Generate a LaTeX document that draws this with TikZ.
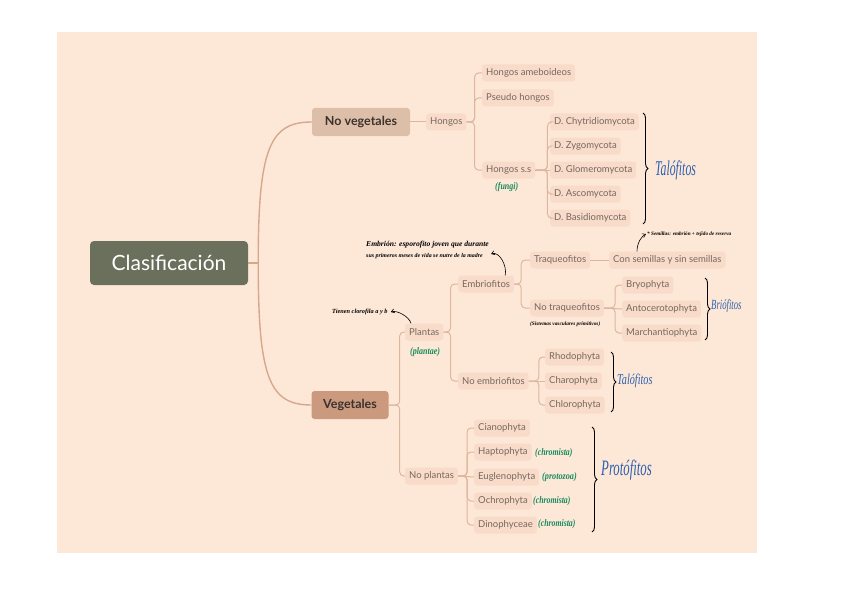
\documentclass[tikz,border=0pt]{standalone}
\usepackage{fontspec}
\setmainfont{Lato}
\newfontfamily\hand{Liberation Serif}
\usetikzlibrary{decorations.pathreplacing,arrows.meta}
\definecolor{bgc}{HTML}{FDE8D8}
\definecolor{boxc}{HTML}{F8DCC9}
\definecolor{linec}{HTML}{DDB69D}
\definecolor{mainlinec}{HTML}{D6A88B}
\definecolor{txtc}{HTML}{76675F}
\definecolor{clasc}{HTML}{6B705C}
\definecolor{novc}{HTML}{DDBEA9}
\definecolor{vegc}{HTML}{CB997E}
\definecolor{darktxt}{HTML}{3A322D}
\definecolor{greenc}{HTML}{178A5C}
\definecolor{bluec}{HTML}{2D5FAE}
\tikzset{
  leaf/.style={fill=boxc, rounded corners=3pt, font=\fontsize{9.5}{10}\selectfont, text=txtc,
    inner xsep=4pt, inner ysep=0pt, minimum height=17pt, anchor=west},
  topnode/.style={rounded corners=3pt, font=\bfseries\fontsize{12.5}{13}\selectfont, text=darktxt,
    minimum height=28pt, inner sep=0pt},
  conn/.style={draw=linec, line width=1pt, rounded corners=4pt},
  mainconn/.style={draw=mainlinec, line width=1.4pt},
  note/.style={text=black, inner sep=0pt},
  gnote/.style={font=\hand\itshape\bfseries\fontsize{10}{10}\selectfont, text=greenc, inner sep=0pt, anchor=west},
  bnote/.style={text=bluec, inner sep=0pt, anchor=west},
  hbrace/.style={decorate, decoration={brace, amplitude=5pt}, draw=black, line width=0.9pt},
  notearrow/.style={draw=black, line width=0.6pt, -{Straight Barb[length=3pt,width=4pt]}}
}
\newcommand{\hw}[2]{{\hand\itshape\bfseries\fontsize{#1}{#1}\selectfont #2}}
\newcommand{\bw}[3]{\scalebox{#1}[1]{\hand\itshape\fontsize{#2}{#2}\selectfont #3}}
\begin{document}
\begin{tikzpicture}[x=1pt,y=-1pt]
\useasboundingbox (0,0) rectangle (848,599);
\fill[white] (0,0) rectangle (848,599);
\fill[bgc] (57,32) rectangle (757,553);

% main nodes
\node[fill=clasc, rounded corners=4pt, minimum width=158pt, minimum height=44pt, inner sep=0pt,
  text=white, font=\fontsize{21}{23}\selectfont] (clas) at (169,263) {Clasificación};
\node[topnode, fill=novc, minimum width=98pt] (nov) at (361,122) {No vegetales};
\node[topnode, fill=vegc, minimum width=77pt] (veg) at (350,405) {Vegetales};

% No vegetales branch
\node[leaf] (hongos) at (426,122) {Hongos};
\node[leaf] (ameb) at (482,73) {Hongos ameboideos};
\node[leaf] (pseudo) at (482,98) {Pseudo hongos};
\node[leaf] (hss) at (482,170) {Hongos s.s};
\node[leaf] (chy) at (550,122) {D. Chytridiomycota};
\node[leaf] (zyg) at (550,146) {D. Zygomycota};
\node[leaf] (glo) at (550,170) {D. Glomeromycota};
\node[leaf] (asc) at (550,194) {D. Ascomycota};
\node[leaf] (bas) at (550,218) {D. Basidiomycota};

% Vegetales branch
\node[leaf] (plantas) at (405,332) {Plantas};
\node[leaf] (noplantas) at (405,476) {No plantas};
\node[leaf] (embr) at (458,284) {Embriofitos};
\node[leaf] (noembr) at (458,381) {No embriofitos};
\node[leaf] (traq) at (530,260) {Traqueofitos};
\node[leaf] (notraq) at (530,308) {No traqueofitos};
\node[leaf] (consem) at (609,260) {Con semillas y sin semillas};
\node[leaf] (bryo) at (622,285) {Bryophyta};
\node[leaf] (anto) at (622,309) {Antocerotophyta};
\node[leaf] (march) at (622,333) {Marchantiophyta};
\node[leaf] (rhodo) at (545,357) {Rhodophyta};
\node[leaf] (charo) at (545,381) {Charophyta};
\node[leaf] (chloro) at (545,405) {Chlorophyta};
\node[leaf] (ciano) at (474,428) {Cianophyta};
\node[leaf] (hapto) at (474,452) {Haptophyta};
\node[leaf] (eugle) at (474,477) {Euglenophyta};
\node[leaf] (ochro) at (474,501) {Ochrophyta};
\node[leaf] (dino) at (474,525) {Dinophyceae};

% main connectors
\draw[mainconn] (clas.east) -- ++(10,0) coordinate (cj);
\draw[mainconn] (cj) .. controls +(0,-115) and +(-42,0) .. (nov.west);
\draw[mainconn] (cj) .. controls +(0,115) and +(-42,0) .. (veg.west);

% connectors
\draw[conn] (nov.east) -- (hongos.west);
\foreach \n in {ameb,pseudo,hss} \draw[conn] (hongos.east) -- ++(8,0) |- (\n.west);
\foreach \n in {chy,zyg,asc,bas} \draw[conn] (hss.east) -- ++(12,0) |- (\n.west);
\draw[conn] (hss.east) -- (glo.west);

\foreach \n in {plantas,noplantas} \draw[conn] (veg.east) -- ++(11,0) |- (\n.west);
\foreach \n in {embr,noembr} \draw[conn] (plantas.east) -- ++(7,0) |- (\n.west);
\foreach \n in {traq,notraq} \draw[conn] (embr.east) -- ++(7,0) |- (\n.west);
\draw[conn] (traq.east) -- (consem.west);
\foreach \n in {bryo,march} \draw[conn] (notraq.east) -- ++(11,0) |- (\n.west);
\draw[conn] (notraq.east) -- (anto.west);
\foreach \n in {rhodo,chloro} \draw[conn] (noembr.east) -- ++(10,0) |- (\n.west);
\draw[conn] (noembr.east) -- (charo.west);
\foreach \n in {ciano,hapto,ochro,dino} \draw[conn] (noplantas.east) -- ++(9,0) |- (\n.west);
\draw[conn] (noplantas.east) -- (eugle.west);

% handwritten annotations (green)
\node[gnote] (fungi) at (495,187) {\scalebox{0.8}[1]{(fungi)}};
\node[gnote] (plantae) at (410,352) {\scalebox{0.8}[1]{(plantae)}};
\node[gnote] (chr1) at (535,453) {\scalebox{0.78}[1]{(chromista)}};
\node[gnote] (proto) at (542,477) {\scalebox{0.82}[1]{(protozoa)}};
\node[gnote] (chr2) at (533,501) {\scalebox{0.78}[1]{(chromista)}};
\node[gnote] (chr3) at (538,524) {\scalebox{0.78}[1]{(chromista)}};

% handwritten annotations (black)
\node[note, anchor=west] (sist) at (530,324) {\hw{5.3}{(Sistemas vasculares primitivos)}};
\node[note, anchor=west, align=left] (embnote) at (366,250)
  {\hw{7.6}{Embrión: esporofito joven que durante}\\[-1.5pt]\hw{5.9}{sus primeros meses de vida se nutre de la madre}};
\node[note, anchor=west] (tienen) at (332,312) {\hw{6.3}{Tienen clorofila a y b}};
\node[note, anchor=west] (semnote) at (647,234) {\hw{5.2}{* Semillas: embrión + tejido de reserva}};

\draw[notearrow] ([xshift=-9pt]embr.north east) .. controls +(2,-10) and +(8,-3) .. ([xshift=2pt,yshift=-4pt]embnote.east);
\draw[notearrow] ([xshift=6pt]plantas.north west) .. controls +(-2,-7) and +(6,-2) .. ([xshift=3pt]tienen.east);
\draw[notearrow] ([xshift=28pt]consem.north west) .. controls +(0,-9) and +(-4,2) .. ([xshift=-1pt]semnote.west);

% braces and group labels (blue)
\draw[hbrace] (643,113) -- (643,224);
\node[bnote] (talo1) at (655,170) {\bw{0.56}{21}{Talófitos}};
\draw[hbrace] (705,278) -- (705,340);
\node[bnote] (brio) at (711,306) {\bw{0.62}{14}{Briófitos}};
\draw[hbrace] (611,352) -- (611,412);
\node[bnote] (talo2) at (617,381) {\bw{0.68}{15}{Talófitos}};
\draw[hbrace] (592,427) -- (592,532);
\node[bnote] (proti) at (601,470) {\bw{0.58}{22}{Protófitos}};
\end{tikzpicture}
\end{document}
